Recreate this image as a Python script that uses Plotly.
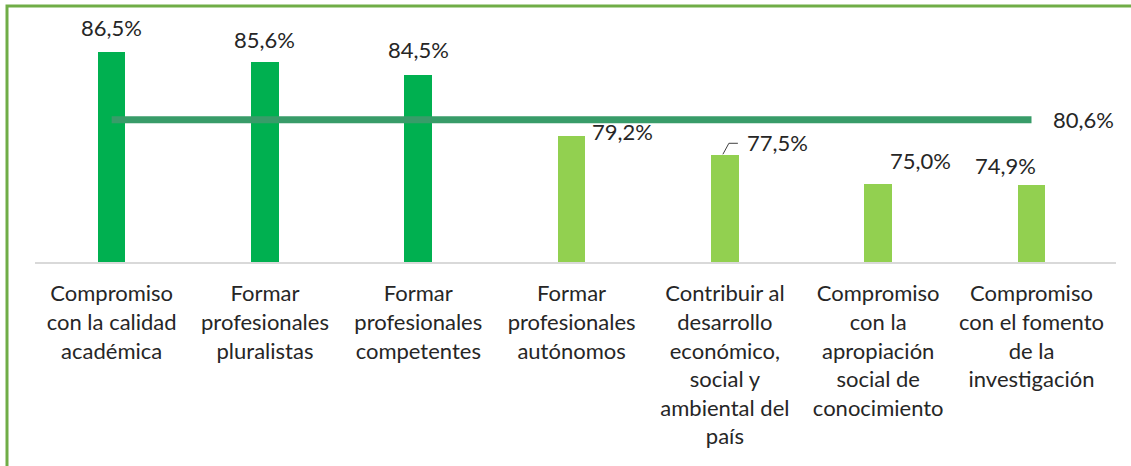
import plotly.graph_objects as go

# datos ----------------------------------------------------------------
categorias = [
    "Compromiso<br>con la calidad<br>académica",
    "Formar<br>profesionales<br>pluralistas",
    "Formar<br>profesionales<br>competentes",
    "Formar<br>profesionales<br>autónomos",
    "Contribuir al<br>desarrollo<br>económico,<br>social y<br>ambiental del<br>país",
    "Compromiso<br>con la<br>apropiación<br>social de<br>conocimiento",
    "Compromiso<br>con el fomento<br>de la<br>investigación",
]
valores = [86.5, 85.6, 84.5, 79.2, 77.5, 75.0, 74.9]
promedio = 80.6

VERDE = "#00B050"
VERDE_CLARO = "#92D050"
colores = [VERDE if v > promedio else VERDE_CLARO for v in valores]

# desplazamiento de cada etiqueta respecto a la punta de la barra (px)
desplaz = [(0, 25), (0, 23), (0, 25), (51, 4), (53, 13), (42, 23), (-26, 20)]

FUENTE = "Lato"
TAM = 22


def pct(v):
    return f"{v:.1f}%".replace(".", ",")


fig = go.Figure()
fig.add_trace(go.Bar(
    x=categorias, y=valores,
    marker=dict(color=colores, line_width=0),
    width=0.18,
))
fig.add_trace(go.Scatter(
    x=categorias, y=[promedio] * len(categorias),
    mode="lines",
    line=dict(color="#389C69", width=7),
))

for c, v, (dx, dy) in zip(categorias, valores, desplaz):
    fig.add_annotation(
        x=c, y=v, text=pct(v), showarrow=False,
        xshift=dx, yshift=dy, yanchor="middle",
        font=dict(family=FUENTE, size=TAM, color="#262626"),
    )

fig.add_annotation(
    x=categorias[-1], y=promedio, text=pct(promedio), showarrow=False,
    xshift=52, yshift=0, yanchor="middle",
    font=dict(family=FUENTE, size=TAM, color="#262626"),
)

# linea guia de la etiqueta 77,5%
fig.add_shape(
    type="path", xref="x", yref="y",
    xsizemode="pixel", ysizemode="pixel",
    xanchor=categorias[4], yanchor=valores[4],
    path="M -2 1 L 4 12 L 13 12",
    line=dict(color="#404040", width=1),
)

# marco verde
fig.add_shape(
    type="rect", xref="paper", yref="paper",
    x0=-0.0259, x1=1.2, y0=-1.0, y1=1.058,
    line=dict(color="#70AD47", width=3), layer="above",
)

fig.update_layout(
    width=1131, height=466,
    margin=dict(l=35, r=15, t=20, b=204, autoexpand=False),
    plot_bgcolor="white", paper_bgcolor="white",
    showlegend=False,
    bargap=0,
    font=dict(family=FUENTE, size=TAM, color="#262626"),
    xaxis=dict(
        showline=True, linecolor="#D9D9D9", linewidth=2,
        showgrid=False, ticks="", tickangle=0, automargin=False,
        ticklabelstandoff=11,
        tickfont=dict(family=FUENTE, size=TAM, color="#262626"),
    ),
    yaxis=dict(
        range=[68.2, 89.29], visible=False, showgrid=False, automargin=False,
    ),
)

# sin margen del body para que el marco quede en el borde de la ventana
fig.write_html(
    "out.html",
    config={"displayModeBar": False},
    post_script="document.body.style.margin='0';",
)
